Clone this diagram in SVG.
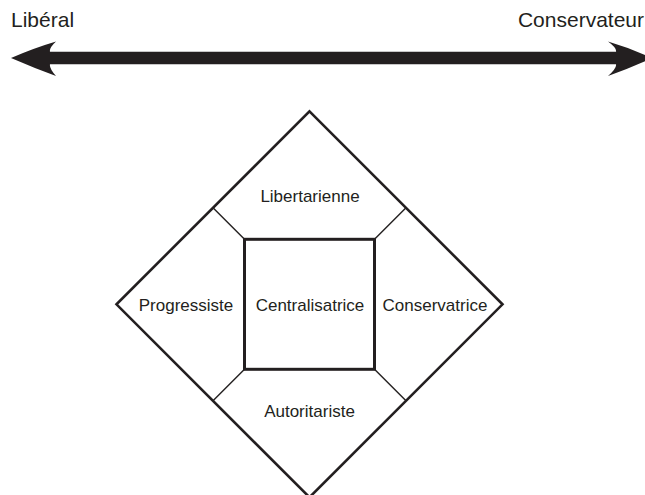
<svg xmlns="http://www.w3.org/2000/svg" width="645" height="495" viewBox="0 0 645 495">
<style>
text{font-family:"Liberation Sans",Arial,sans-serif;fill:#231f20}
.lbl{font-size:17px;text-anchor:middle}
.top{font-size:21px}
.edge{fill:none;stroke:#231f20;stroke-width:2.6;stroke-linejoin:miter}
.inner{fill:none;stroke:#231f20;stroke-width:3}
.conn{fill:none;stroke:#231f20;stroke-width:1.5}
</style>
<rect width="645" height="495" fill="#fff"/>
<g id="axis">
<path d="M11,58 Q34,48 56,41.5 Q49,48 50,51.8 L616,51.8 Q617,48 608,41.5 Q630,48 652,58 Q630,68 608,76 Q617,68 616,64.2 L50,64.2 Q49,68 56,76 Q34,68 11,58 Z" fill="#231f20"/>
<text class="top" x="11" y="27">Libéral</text>
<text class="top" x="644" y="27" text-anchor="end">Conservateur</text>
</g>
<g id="diamond">
<path class="edge" d="M309.5,111.3 L502.5,304.3 L309.5,497.3 L116.5,304.3 Z"/>
</g>
<g id="connectors">
<line class="conn" x1="244.5" y1="239.3" x2="213" y2="207.8"/>
<line class="conn" x1="374.5" y1="239.3" x2="406" y2="207.8"/>
<line class="conn" x1="244.5" y1="369.3" x2="213" y2="400.8"/>
<line class="conn" x1="374.5" y1="369.3" x2="406" y2="400.8"/>
</g>
<g id="libertarienne"><text class="lbl" x="310" y="202">Libertarienne</text></g>
<g id="progressiste"><text class="lbl" x="186" y="311">Progressiste</text></g>
<g id="centralisatrice">
<rect class="inner" x="244.5" y="239.3" width="130" height="130"/>
<text class="lbl" x="310" y="311">Centralisatrice</text>
</g>
<g id="conservatrice"><text class="lbl" x="435" y="311">Conservatrice</text></g>
<g id="autoritariste"><text class="lbl" x="309.5" y="417">Autoritariste</text></g>
</svg>
